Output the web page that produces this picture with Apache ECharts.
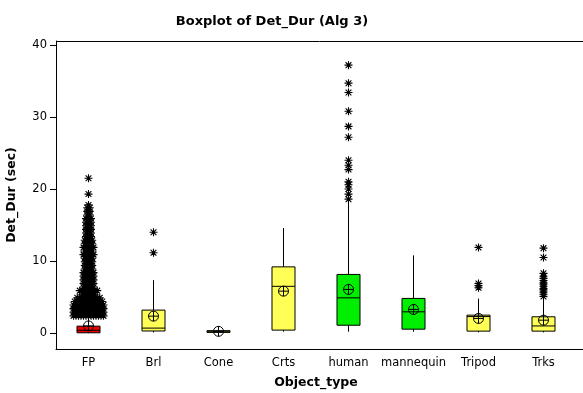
<!DOCTYPE html>
<html>
<head>
<meta charset="utf-8">
<script src="https://cdn.jsdelivr.net/npm/echarts@6/dist/echarts.min.js"></script>
<style>
  html, body { margin: 0; padding: 0; background: #fff; }
  #chart { width: 583px; height: 393px; }
</style>
</head>
<body>
<div id="chart"></div>
<script>
// Object types on the x axis
const categories = ['FP', 'Brl', 'Cone', 'Crts', 'human', 'mannequin', 'Tripod', 'Trks'];

// Box summaries (seconds)
const lowerWhisker = [0.0, 0.1, 0.05, 0.2, 0.2, 0.2, 0.1, 0.1];
const quartile1 = [0.05, 0.3, 0.1, 0.42, 1.1, 0.55, 0.28, 0.28];
const medians = [0.4, 0.7, 0.2, 6.5, 4.9, 2.96, 2.3, 1.0];
const quartile3 = [0.97, 3.2, 0.35, 9.2, 8.15, 4.82, 2.5, 2.27];
const upperWhisker = [2.3, 7.36, 0.5, 14.6, 18.1, 10.8, 4.8, 4.8];
const means = [1.0, 2.36, 0.25, 5.83, 6.07, 3.29, 2.04, 1.8];

// Outliers; FP has so many that they are grouped into levels with the number of
// coinciding points at each level (stacked side by side)
const fpOutlierLevels = [2.4, 2.9, 3.4, 3.9, 4.4, 4.9, 5.4, 5.9, 6.4, 6.9, 7.4, 7.9, 8.4, 8.9, 9.4, 9.9,
  10.4, 10.9, 11.4, 11.9, 12.4, 12.9, 13.4, 13.9, 14.4, 14.9, 15.4, 15.9, 16.4, 16.9, 17.4, 17.8, 19.3, 21.5];
const fpOutlierCounts = [13, 13, 13, 13, 12, 10, 6, 8, 5, 5, 5, 5, 5, 4, 4, 4,
  4, 5, 4, 5, 4, 4, 3, 3, 3, 3, 3, 3, 2, 2, 2, 1, 1, 1];
const brlOutliers = [14.0, 11.15];
const humanOutliers = [37.2, 34.7, 33.4, 30.8, 28.7, 27.2, 24.0, 23.3, 22.7, 21.0, 20.6, 20.0, 19.3, 18.6];
const tripodOutliers = [11.9, 6.9, 6.6, 6.3];
const trksOutliers = [11.8, 10.5, 8.3, 7.9, 7.6, 7.3, 7.0, 6.8, 6.5, 6.2, 6.0, 5.7, 5.4, 5.1];

// Y axis tick labels
const yTicks = [0, 10, 20, 30, 40];

const boxFill = ['#ee0000', '#ffff55', '#ffff55', '#ffff55', '#00ee00', '#00ee00', '#ffff55', '#ffff55'];
const FONT = 'DejaVu Sans';

const boxData = categories.map((c, i) =>
  [i, lowerWhisker[i], quartile1[i], medians[i], quartile3[i], upperWhisker[i], means[i]]);

const outlierData = [];
fpOutlierLevels.forEach((v, k) => outlierData.push([0, v, fpOutlierCounts[k]]));
brlOutliers.forEach(v => outlierData.push([1, v, 1]));
humanOutliers.forEach(v => outlierData.push([4, v, 1]));
tripodOutliers.forEach(v => outlierData.push([6, v, 1]));
trksOutliers.forEach(v => outlierData.push([7, v, 1]));

// Eight-armed asterisk used for outlier points
function starPath(cx, cy, r) {
  const d = r * 0.72;
  return 'M' + (cx - r) + ',' + cy + 'L' + (cx + r) + ',' + cy +
    'M' + cx + ',' + (cy - r) + 'L' + cx + ',' + (cy + r) +
    'M' + (cx - d) + ',' + (cy - d) + 'L' + (cx + d) + ',' + (cy + d) +
    'M' + (cx - d) + ',' + (cy + d) + 'L' + (cx + d) + ',' + (cy - d);
}

function renderBox(params, api) {
  const i = api.value(0);
  const pLo = api.coord([i, api.value(1)]);
  const pQ1 = api.coord([i, api.value(2)]);
  const pMed = api.coord([i, api.value(3)]);
  const pQ3 = api.coord([i, api.value(4)]);
  const pHi = api.coord([i, api.value(5)]);
  const pMean = api.coord([i, api.value(6)]);
  const x = pQ1[0];
  const bw = api.size([1, 0])[0] * 0.354;
  const line = { stroke: '#000', lineWidth: 1 };
  const r = 5;
  return {
    type: 'group',
    children: [
      { type: 'line', shape: { x1: x, y1: pHi[1], x2: x, y2: pQ3[1] }, style: line },
      { type: 'line', shape: { x1: x, y1: pQ1[1], x2: x, y2: pLo[1] }, style: line },
      { type: 'rect', shape: { x: x - bw / 2, y: pQ3[1], width: bw, height: pQ1[1] - pQ3[1] },
        style: { fill: boxFill[i], stroke: '#000', lineWidth: 1 } },
      { type: 'line', shape: { x1: x - bw / 2, y1: pMed[1], x2: x + bw / 2, y2: pMed[1] }, style: line },
      { type: 'circle', shape: { cx: pMean[0], cy: pMean[1], r: r }, style: { fill: 'none', stroke: '#000', lineWidth: 1 } },
      { type: 'line', shape: { x1: pMean[0] - r, y1: pMean[1], x2: pMean[0] + r, y2: pMean[1] }, style: line },
      { type: 'line', shape: { x1: pMean[0], y1: pMean[1] - r, x2: pMean[0], y2: pMean[1] + r }, style: line }
    ]
  };
}

function renderOutliers(params, api) {
  const i = api.value(0);
  const n = api.value(2);
  const c = api.coord([i, api.value(1)]);
  const gap = 2.5;
  let d = '';
  for (let k = 0; k < n; k++) {
    d += starPath(c[0] - (n - 1) * gap / 2 + k * gap, c[1], 4);
  }
  return { type: 'path', shape: { pathData: d }, style: { fill: null, stroke: '#000', lineWidth: 1.1 } };
}

const chart = echarts.init(document.getElementById('chart'), null, { renderer: 'canvas' });
chart.setOption({
  animation: false,
  backgroundColor: '#fff',
  textStyle: { fontFamily: FONT },
  grid: { left: 56, right: 7, top: 41, bottom: 44, containLabel: false, outerBoundsMode: 'none' },
  xAxis: {
    type: 'category',
    data: categories,
    boundaryGap: true,
    name: 'Object_type',
    nameLocation: 'middle',
    nameGap: 27,
    nameTextStyle: { fontFamily: FONT, fontWeight: 'bold', fontSize: 12.5, color: '#000' },
    axisLine: { onZero: false, lineStyle: { color: '#000', width: 1 } },
    axisTick: { alignWithLabel: true, length: 5, lineStyle: { color: '#000' } },
    axisLabel: { color: '#000', fontFamily: FONT, fontSize: 11.5, margin: 8, interval: 0 },
    splitLine: { show: false }
  },
  yAxis: {
    type: 'value',
    min: -2.2,
    max: 40.55,
    name: 'Det_Dur (sec)',
    nameLocation: 'middle',
    nameGap: 38,
    nameTextStyle: { fontFamily: FONT, fontWeight: 'bold', fontSize: 12.5, color: '#000' },
    axisLine: { show: true, onZero: false, lineStyle: { color: '#000', width: 1 } },
    axisTick: { show: true, length: 6, customValues: yTicks, lineStyle: { color: '#000' } },
    axisLabel: { color: '#000', fontFamily: FONT, fontSize: 11.5, margin: 9, customValues: yTicks },
    splitLine: { show: false }
  },
  graphic: [
    { type: 'text', x: 272, y: 22, style: { text: 'Boxplot of Det_Dur (Alg 3)', font: 'bold 13px "DejaVu Sans"', fill: '#000', textAlign: 'center', textVerticalAlign: 'middle' } },
    { type: 'line', shape: { x1: 56, y1: 41.5, x2: 583, y2: 41.5 }, style: { stroke: '#000', lineWidth: 1 } },
    { type: 'line', shape: { x1: 570, y1: 349.5, x2: 583, y2: 349.5 }, style: { stroke: '#000', lineWidth: 1 } }
  ],
  series: [
    {
      type: 'custom',
      renderItem: renderBox,
      data: boxData,
      encode: { x: 0, y: [1, 2, 3, 4, 5, 6] },
      z: 2
    },
    {
      type: 'custom',
      renderItem: renderOutliers,
      data: outlierData,
      encode: { x: 0, y: 1 },
      z: 3
    }
  ]
});
</script>
</body>
</html>
